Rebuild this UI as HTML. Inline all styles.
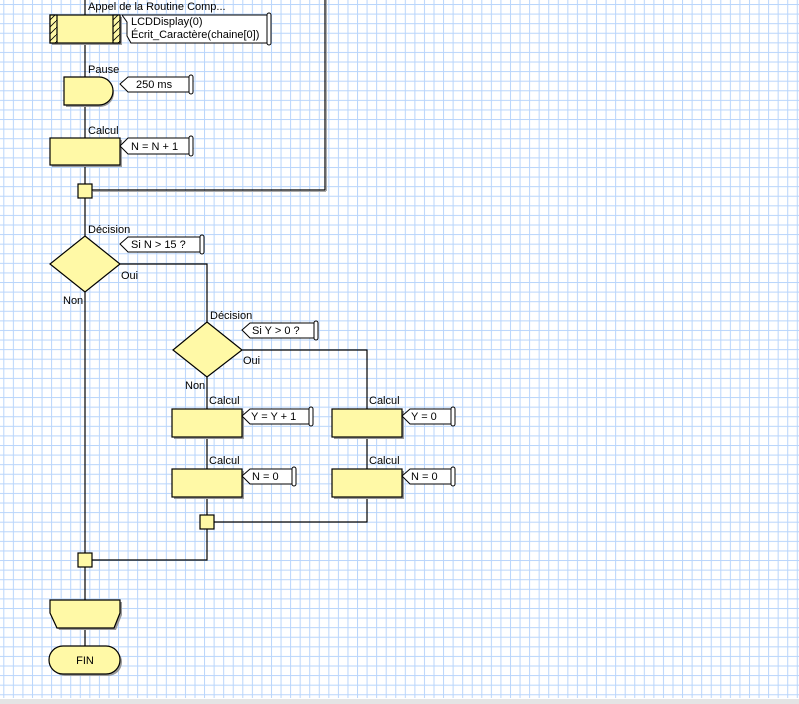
<!DOCTYPE html>
<html><head><meta charset="utf-8"><style>
html,body{margin:0;padding:0;background:#fff;}
svg{display:block;}
text{font-family:"Liberation Sans",sans-serif;font-size:11px;fill:#000;}
</style></head><body>
<svg width="799" height="704" viewBox="0 0 799 704" xmlns="http://www.w3.org/2000/svg">
<defs>
<pattern id="gx" x="3.3" y="0" width="9.56" height="704" patternUnits="userSpaceOnUse"><rect x="0" y="0" width="1" height="704" fill="#b9d5fb"/></pattern>
<pattern id="gy" x="0" y="4" width="799" height="9.587" patternUnits="userSpaceOnUse"><rect x="0" y="0" width="799" height="1" fill="#b9d5fb"/></pattern>
<pattern id="hatch" width="7" height="7" patternUnits="userSpaceOnUse"><rect width="7" height="7" fill="#fff9a6"/><line x1="0" y1="7" x2="7" y2="0" stroke="#000" stroke-width="0.8"/></pattern>
</defs>
<rect width="799" height="704" fill="#fff"/>
<rect width="799" height="698" fill="url(#gx)"/>
<rect width="799" height="698" fill="url(#gy)"/>
<rect x="0" y="699" width="799" height="5" fill="#e4e4e4"/>

<g fill="none" stroke="#000" stroke-width="1.2">
<!-- main line -->
<path d="M85 0V600"/>
<path d="M92 190H325V0"/>
<path d="M120 264H207V322"/>
<path d="M242 350H367V409"/>
<path d="M207 377V409M207 437V469M207 497V515"/>
<path d="M367 437V469M367 497V522H214"/>
<path d="M207 529V560H92"/>
<path d="M85 628V646"/>
</g>
<g fill="none" stroke="#aaa" stroke-width="1"><path d="M326.5 191V0M93 191.5H326"/></g>

<g stroke="#000" stroke-width="1.2">
<!-- routine call -->
<rect x="52" y="17" width="70" height="28" fill="#999" stroke="none"/>
<rect x="50" y="15" width="70" height="28" fill="#fff9a6"/>
<rect x="50" y="15" width="7" height="28" fill="url(#hatch)"/>
<rect x="113" y="15" width="7" height="28" fill="url(#hatch)"/>
<!-- pause -->
<path d="M66 79H100A14 14 0 0 1 100 107H66Z" fill="#999" stroke="none"/>
<path d="M64 77H99A14 14 0 0 1 99 105H64Z" fill="#fff9a6"/>
<!-- calcul N -->
<rect x="52" y="140" width="70" height="27" fill="#999" stroke="none"/>
<rect x="50" y="138" width="70" height="27" fill="#fff9a6"/>
<!-- junctions -->
<rect x="78" y="184" width="14" height="14" fill="#fff9a6"/>
<rect x="200" y="515" width="14" height="14" fill="#fff9a6"/>
<rect x="78" y="553" width="14" height="14" fill="#fff9a6"/>
<!-- diamonds -->
<path d="M85 236L120 264L85 292L50 264Z" fill="#fff9a6"/>
<path d="M207 322L242 350L207 377L173 350Z" fill="#fff9a6"/>
<!-- calcul boxes -->
<rect x="174" y="411" width="70" height="28" fill="#999" stroke="none"/>
<rect x="172" y="409" width="70" height="28" fill="#fff9a6"/>
<rect x="174" y="471" width="70" height="28" fill="#999" stroke="none"/>
<rect x="172" y="469" width="70" height="28" fill="#fff9a6"/>
<rect x="334" y="411" width="70" height="28" fill="#999" stroke="none"/>
<rect x="332" y="409" width="70" height="28" fill="#fff9a6"/>
<rect x="334" y="471" width="70" height="28" fill="#999" stroke="none"/>
<rect x="332" y="469" width="70" height="28" fill="#fff9a6"/>
<!-- loop end -->
<path d="M52 602H122V615L116 630H59L52 615Z" fill="#999" stroke="none"/>
<path d="M50 600H120V613L114 628H57L50 613Z" fill="#fff9a6"/>
<!-- FIN -->
<rect x="51" y="648" width="71" height="28" rx="14" fill="#999" stroke="none"/>
<rect x="49" y="646" width="71" height="28" rx="14" fill="#fff9a6"/>
</g>

<!-- comment bubbles -->
<g fill="#fff" stroke="#000" stroke-width="1">
<path d="M122 15H268V43H131L127 36V22Z"/>
<rect x="267" y="13" width="4" height="32" rx="2"/>
<path d="M120 84L128 77H190V92H128Z"/><rect x="189" y="75" width="4" height="19" rx="2"/>
<path d="M120 146L128 138H190V154H128Z"/><rect x="189" y="136" width="4" height="20" rx="2"/>
<path d="M120 244L128 237H201V252H128Z"/><rect x="200" y="235" width="4" height="19" rx="2"/>
<path d="M242 330L250 323H315V338H250Z"/><rect x="314" y="321" width="4" height="19" rx="2"/>
<path d="M242 416L250 409H310V424H250Z"/><rect x="309" y="407" width="4" height="19" rx="2"/>
<path d="M242 476L250 469H293V484H250Z"/><rect x="292" y="467" width="4" height="19" rx="2"/>
<path d="M402 416L410 409H452V424H410Z"/><rect x="451" y="407" width="4" height="19" rx="2"/>
<path d="M402 476L410 469H452V484H410Z"/><rect x="451" y="467" width="4" height="19" rx="2"/>
</g>

<text x="88" y="10">Appel de la Routine Comp...</text>
<text x="131" y="25">LCDDisplay(0)</text>
<text x="131" y="38">Écrit_Caractère(chaine[0])</text>
<text x="88" y="73">Pause</text>
<text x="136" y="88">250 ms</text>
<text x="88" y="134">Calcul</text>
<text x="131" y="150">N = N + 1</text>
<text x="88" y="233">Décision</text>
<text x="131" y="248">Si N &gt; 15 ?</text>
<text x="121" y="279">Oui</text>
<text x="63" y="304">Non</text>
<text x="210" y="319">Décision</text>
<text x="252" y="334">Si Y &gt; 0 ?</text>
<text x="243" y="364">Oui</text>
<text x="185" y="389">Non</text>
<text x="209" y="404">Calcul</text>
<text x="251" y="420">Y = Y + 1</text>
<text x="369" y="404">Calcul</text>
<text x="411" y="420">Y = 0</text>
<text x="209" y="464">Calcul</text>
<text x="252" y="480">N = 0</text>
<text x="369" y="464">Calcul</text>
<text x="411" y="480">N = 0</text>
<text x="85" y="664" text-anchor="middle">FIN</text>
</svg>
</body></html>
